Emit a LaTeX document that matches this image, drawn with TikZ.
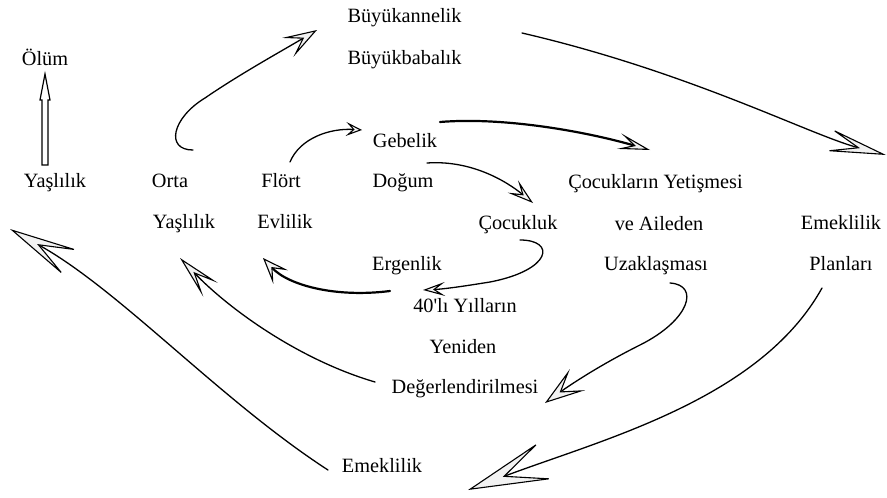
\documentclass[tikz,border=0pt]{standalone}
\usepackage{fontspec}
\setmainfont{Liberation Serif}
\usetikzlibrary{arrows.meta}
\begin{document}
\begin{tikzpicture}[x=1pt,y=-1pt,
  lbl/.style={font=\fontsize{20.3}{23}\selectfont, inner sep=0pt, anchor=base},
  curv/.style={line width=1.3pt, line cap=round},
  thk/.style={line width=2.2pt, line cap=round},
  hd/.style n args={3}{-{Stealth[length=#1pt,width=#2pt,inset=#3pt,fill=black!5,line width=1.1pt]}}
]
\useasboundingbox (0,0) rectangle (887,498);
% labels
\node[lbl] (bua) at (404.5,22) {Büyükannelik};
\node[lbl] (bub) at (404.5,64) {Büyükbabalık};
\node[lbl] (olum) at (45,65) {Ölüm};
\node[lbl] (yas1) at (55,187) {Yaşlılık};
\node[lbl] (orta) at (170,187) {Orta};
\node[lbl] (yas2) at (184,228) {Yaşlılık};
\node[lbl] (flort) at (281,187) {Flört};
\node[lbl] (evl) at (285,228) {Evlilik};
\node[lbl] (geb) at (405,147) {Gebelik};
\node[lbl] (dog) at (403,187) {Doğum};
\node[lbl] (coc) at (518,229) {Çocukluk};
\node[lbl] (cy) at (655.5,188) {Çocukların Yetişmesi};
\node[lbl] (va) at (659,230) {ve Aileden};
\node[lbl] (uz) at (656,270) {Uzaklaşması};
\node[lbl] (emp) at (841,229) {Emeklilik};
\node[lbl] (pl) at (841,270) {Planları};
\node[lbl] (erg) at (407,270) {Ergenlik};
\node[lbl] (kirk) at (465,312) {40\textquotesingle lı Yılların};
\node[lbl] (yen) at (463,353) {Yeniden};
\node[lbl] (deg) at (465,393) {Değerlendirilmesi};
\node[lbl] (emb) at (382,472) {Emeklilik};
% Olum arrow (double outline)
\draw[line width=1.2pt, line join=miter, fill=white] (42,165) -- (42,100) -- (40,100) -- (45,74) -- (50,100) -- (48,100) -- (48,165) -- cycle;
% coordinates
\coordinate (a2s) at (193,150); \coordinate (a2e) at (317,30);
\coordinate (a3s) at (290,162); \coordinate (a3e) at (362,130);
\coordinate (a4s) at (440,122); \coordinate (a4e) at (650,150);
\coordinate (a5s) at (427,163); \coordinate (a5e) at (533,203);
\coordinate (a6s) at (520,240); \coordinate (a6e) at (423,290);
\coordinate (a7s) at (390,291); \coordinate (a7e) at (263,258);
\coordinate (a8s) at (522,33); \coordinate (a8e) at (886,155);
\coordinate (a9s) at (822,288); \coordinate (a9e) at (468,490);
\coordinate (a10s) at (670,283); \coordinate (a10e) at (545,403);
\coordinate (a11s) at (375,382); \coordinate (a11e) at (180,258);
\coordinate (a12s) at (328,470); \coordinate (a12e) at (10,229);
% arrows
\draw[curv, hd={34}{22}{17}] (a2s) .. controls (165,150) and (172,118) .. (205,98) .. controls (240,74) and (280,52) .. (a2e);
\draw[curv, hd={16}{14}{7}] (a3s) .. controls (300,138) and (330,128) .. (a3e);
\draw[thk, hd={32}{16}{15}] (a4s) .. controls (500,117) and (580,130) .. (a4e);
\draw[curv, hd={26}{16}{12}] (a5s) .. controls (470,160) and (505,180) .. (a5e);
\draw[curv, hd={22}{14}{10}] (a6s) .. controls (556,240) and (552,270) .. (490,282) .. controls (465,286) and (445,289) .. (a6e);
\draw[thk, hd={26}{20}{12}] (a7s) .. controls (335,298) and (288,285) .. (a7e);
\draw[curv, hd={62}{24}{32}] (a8s) .. controls (690,72) and (810,135) .. (a8e);
\draw[curv, hd={85}{40}{45}] (a9s) .. controls (760,400) and (600,440) .. (a9e);
\draw[curv, hd={40}{26}{20}] (a10s) .. controls (700,285) and (690,320) .. (640,345) .. controls (600,365) and (570,385) .. (a10e);
\draw[curv, hd={44}{20}{22}] (a11s) .. controls (300,360) and (230,310) .. (a11e);
\draw[curv, hd={72}{30}{38}] (a12s) .. controls (220,400) and (120,290) .. (a12e);
\end{tikzpicture}
\end{document}
